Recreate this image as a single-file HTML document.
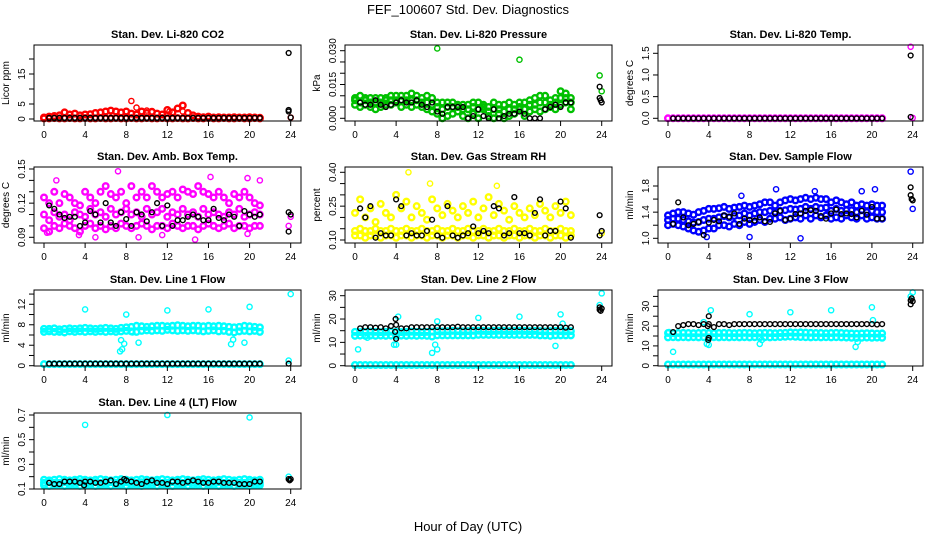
<!DOCTYPE html>
<html><head><meta charset="utf-8"><style>
html,body{margin:0;padding:0;background:#fff;}
svg{display:block;font-family:"Liberation Sans",sans-serif;}
</style></head><body>
<svg id="chart" width="936" height="540" viewBox="0 0 936 540">
<text x="468" y="14" text-anchor="middle" font-size="13">FEF_100607  Std. Dev. Diagnostics</text>
<text x="468" y="531" text-anchor="middle" font-size="13">Hour of Day (UTC)</text>
</svg>
<script>
const hours = [0,0.5,1,1.5,2,2.5,3,3.5,4,4.5,5,5.5,6,6.5,7,7.5,8,8.5,9,9.5,10,10.5,11,11.5,12,12.5,13,13.5,14,14.5,15,15.5,16,16.5,17,17.5,18,18.5,19,19.5,20,20.5,21];
const xTicks = [0,4,8,12,16,20,24];

const co2A = [0.5,0.8,1,1.2,2.2,1.5,1.8,1.2,1.5,1.6,2,2.2,2.5,2.8,2.5,2.2,2.5,1.8,1.5,2.5,2,2.4,1.8,1.5,3,2.2,3.5,4.5,2,1.2,0.8,0.6,0.8,0.5,0.6,0.5,0.5,0.6,0.5,0.5,0.6,0.5,0.4];
const co2B = [0.2,0.2,0.3,0.2,0.2,0.3,0.2,0.2,0.3,0.2,0.2,0.3,0.2,0.2,0.3,0.2,0.2,0.3,0.2,0.2,0.3,0.2,0.2,0.3,0.2,0.2,0.3,0.2,0.2,0.3,0.2,0.2,0.3,0.2,0.2,0.3,0.2,0.2,0.3,0.2,0.2,0.3,0.2];
const co2K = [null,0.4,0.4,0.4,0.4,0.4,0.4,0.4,0.4,0.4,0.4,0.4,0.4,0.4,0.4,0.4,0.4,0.4,0.4,0.4,0.4,0.4,0.4,0.4,0.4,0.4,0.4,0.4,0.4,0.4,0.4,0.4,0.4,0.4,0.4,0.4,0.4,0.4,0.4,0.4,0.4,0.4,0.4];
const co2OutX = [8.5,9,10,12.2,13.5,24,23.8,23.8,23.8,24];
const co2OutY = [6,3.8,2.8,2.5,2.5,0.5,22,3,2.5,0.5];
const co2OutC = ['c','c','c','c','c','c','k','k','k','k'];

const presA = [0.009,0.01,0.009,0.009,0.009,0.009,0.009,0.01,0.01,0.01,0.01,0.011,0.01,0.009,0.01,0.009,0.007,0.007,0.007,0.007,0.006,0.006,0.006,0.007,0.007,0.006,0.005,0.007,0.006,0.006,0.007,0.006,0.007,0.007,0.008,0.009,0.01,0.01,0.008,0.009,0.012,0.011,0.009];
const presB = [0.006,0.005,0.006,0.005,0.004,0.005,0.006,0.006,0.007,0.005,0.006,0.005,0.006,0.005,0.004,0.003,0.002,0.0,0.001,0.002,0.003,0.001,0.0,0.002,0.0,0.004,0.001,0.0,0.002,0.0,0.001,0.002,0.004,0.001,0.003,0.004,0.003,0.004,0.005,0.004,0.006,0.007,0.004];
const presC = [0.008,0.007,0.008,0.007,0.007,0.007,0.008,0.008,0.008,0.008,0.008,0.008,0.008,0.007,0.007,0.006,0.005,0.004,0.005,0.005,0.005,0.004,0.004,0.005,0.004,0.005,0.003,0.004,0.004,0.003,0.004,0.004,0.005,0.004,0.006,0.006,0.007,0.007,0.006,0.007,0.009,0.009,0.007];
const presK = [null,0.007,0.006,0.006,0.008,0.006,0.005,0.006,0.007,0.008,0.007,0.007,0.008,0.006,0.005,0.007,0.003,0.002,0.005,0.005,0.005,0.005,0.0,0.001,0.004,0.001,0.0,0.004,0.0,0.001,0.002,0.002,0.003,0.002,0.0,0.0,0.0,0.004,0.005,0.006,0.005,0.007,0.007];
const presOutX = [8,16,23.8,24,23.8,23.8,24,23.9];
const presOutY = [0.031,0.026,0.019,0.012,0.014,0.009,0.007,0.008];
const presOutC = ['c','c','c','c','k','k','k','k'];

const tempA = [0,0,0,0,0,0,0,0,0,0,0,0,0,0,0,0,0,0,0,0,0,0,0,0,0,0,0,0,0,0,0,0,0,0,0,0,0,0,0,0,0,0,0];
const tempK = [null,0,0,0,0,0,0,0,0,0,0,0,0,0,0,0,0,0,0,0,0,0,0,0,0,0,0,0,0,0,0,0,0,0,0,0,0,0,0,0,0,0,0];
const tempOutX = [23.8,24,23.8,23.8];
const tempOutY = [1.65,0.01,1.45,0.03];
const tempOutC = ['c','c','k','k'];

const boxA = [0.125,0.12,0.13,0.12,0.128,0.125,0.12,0.118,0.13,0.125,0.12,0.13,0.135,0.128,0.125,0.13,0.12,0.135,0.125,0.13,0.125,0.135,0.13,0.125,0.128,0.13,0.125,0.132,0.13,0.128,0.135,0.13,0.128,0.125,0.13,0.125,0.12,0.128,0.125,0.13,0.125,0.12,0.118];
const boxB = [0.11,0.105,0.112,0.108,0.11,0.105,0.112,0.11,0.108,0.115,0.11,0.112,0.108,0.115,0.11,0.112,0.115,0.11,0.112,0.108,0.115,0.11,0.112,0.115,0.108,0.112,0.11,0.115,0.11,0.112,0.108,0.115,0.11,0.112,0.11,0.108,0.112,0.11,0.115,0.108,0.11,0.112,0.11];
const boxC = [0.098,0.095,0.1,0.098,0.102,0.1,0.098,0.095,0.1,0.102,0.098,0.1,0.097,0.1,0.098,0.102,0.1,0.098,0.1,0.102,0.1,0.097,0.1,0.1,0.098,0.102,0.1,0.098,0.1,0.1,0.097,0.1,0.102,0.1,0.098,0.1,0.102,0.098,0.1,0.1,0.098,0.1,0.1];
const boxK = [null,0.118,0.115,0.11,0.107,0.108,0.108,0.1,0.103,0.113,0.11,0.103,0.12,0.103,0.1,0.112,0.106,0.1,0.112,0.11,0.104,0.112,0.12,0.1,0.118,0.1,0.105,0.105,0.108,0.11,0.108,0.105,0.105,0.115,0.107,0.105,0.11,0.108,0.1,0.113,0.11,0.108,0.11];
const boxOutX = [0.3,1.2,3.4,5,7.2,9.2,11.5,14.7,16.2,19.8,19.8,21,23.8,24,23.8,23.8,24];
const boxOutY = [0.094,0.14,0.092,0.09,0.148,0.09,0.092,0.088,0.143,0.093,0.142,0.14,0.1,0.108,0.112,0.095,0.11];
const boxOutC = ['c','c','c','c','c','c','c','c','c','c','c','c','c','c','k','k','k'];

const rhA = [0.12,0.12,0.11,0.12,0.12,0.11,0.12,0.12,0.11,0.12,0.12,0.11,0.12,0.12,0.11,0.12,0.12,0.11,0.12,0.12,0.11,0.12,0.12,0.11,0.12,0.12,0.11,0.12,0.12,0.11,0.12,0.12,0.11,0.12,0.12,0.11,0.12,0.12,0.11,0.12,0.12,0.11,0.12];
const rhB = [0.14,0.15,0.14,0.14,0.15,0.14,0.14,0.15,0.14,0.14,0.15,0.14,0.14,0.15,0.14,0.14,0.15,0.14,0.14,0.15,0.14,0.14,0.15,0.14,0.14,0.15,0.14,0.14,0.15,0.14,0.14,0.15,0.14,0.14,0.15,0.14,0.14,0.15,0.14,0.14,0.15,0.14,0.14];
const rhC = [0.22,0.28,0.2,0.24,0.18,0.26,0.22,0.2,0.3,0.24,0.27,0.2,0.25,0.22,0.19,0.28,0.24,0.21,0.26,0.23,0.2,0.25,0.22,0.27,0.2,0.24,0.29,0.21,0.26,0.23,0.19,0.25,0.22,0.2,0.24,0.21,0.26,0.23,0.2,0.25,0.22,0.27,0.21];
const rhK = [null,0.24,0.2,0.25,0.11,0.13,0.12,0.12,0.28,0.25,0.12,0.13,0.12,0.12,0.14,0.19,0.12,0.11,0.25,0.12,0.11,0.12,0.13,0.16,0.13,0.14,0.13,0.25,0.24,0.12,0.13,0.29,0.13,0.13,0.12,0.22,0.28,0.12,0.14,0.14,0.27,0.24,0.11];
const rhOutX = [5.2,7.3,13.8,24,23.8,23.8,24];
const rhOutY = [0.4,0.35,0.34,0.13,0.21,0.12,0.14];
const rhOutC = ['c','c','c','c','k','k','k'];

const sfA = [1.35,1.38,1.4,1.4,1.38,1.36,1.4,1.42,1.45,1.45,1.46,1.48,1.45,1.47,1.48,1.5,1.48,1.5,1.52,1.55,1.55,1.5,1.55,1.58,1.6,1.58,1.6,1.62,1.6,1.62,1.6,1.6,1.55,1.58,1.55,1.52,1.55,1.5,1.52,1.5,1.52,1.5,1.5];
const sfB = [1.2,1.22,1.2,1.18,1.15,1.12,1.1,1.12,1.15,1.15,1.2,1.2,1.18,1.22,1.2,1.25,1.22,1.25,1.28,1.25,1.3,1.3,1.32,1.28,1.3,1.32,1.3,1.35,1.3,1.35,1.32,1.35,1.3,1.32,1.3,1.35,1.32,1.3,1.35,1.3,1.32,1.3,1.3];
const sfC = [1.28,1.3,1.3,1.28,1.26,1.24,1.25,1.28,1.3,1.3,1.32,1.34,1.32,1.34,1.35,1.38,1.35,1.38,1.4,1.4,1.42,1.4,1.42,1.43,1.45,1.44,1.45,1.48,1.45,1.48,1.46,1.47,1.42,1.45,1.42,1.43,1.43,1.4,1.43,1.4,1.42,1.4,1.4];
const sfK = [null,1.22,1.55,1.32,1.2,1.22,1.25,1.05,1.24,1.28,1.26,1.35,1.33,1.38,1.22,1.3,1.28,1.27,1.32,1.26,1.25,1.38,1.42,1.28,1.3,1.37,1.38,1.42,1.43,1.42,1.34,1.3,1.38,1.44,1.37,1.38,1.37,1.32,1.42,1.36,1.48,1.3,1.3];
const sfOutX = [3.8,7.2,8,10.6,13,14.4,19,20.3,23.8,24,23.8,23.8,23.9,24];
const sfOutY = [1.02,1.65,1.02,1.75,1.0,1.72,1.72,1.75,2.02,1.45,1.78,1.66,1.6,1.58];
const sfOutC = ['c','c','c','c','c','c','c','c','c','c','k','k','k','k'];

const l1A = [7.2,7.2,7.3,7.1,7.2,7.3,7.2,7.3,7.4,7.3,7.2,7.3,7.4,7.3,7.2,7.4,7.5,7.6,7.8,7.7,7.6,7.7,7.8,7.8,7.7,7.8,7.9,7.8,7.7,7.8,7.8,7.7,7.8,7.7,7.8,7.7,7.6,7.5,7.6,7.8,7.7,7.6,7.5];
const l1B = [6.6,6.7,6.6,6.6,6.5,6.7,6.6,6.7,6.6,6.7,6.6,6.7,6.6,6.7,6.6,6.7,6.8,6.7,6.6,6.8,6.9,6.8,6.9,6.8,7,6.9,6.8,6.9,6.8,6.9,6.8,6.7,6.8,6.9,6.7,6.8,6.6,6.5,6.7,6.8,6.7,6.8,6.6];
const l1C = [0.3,0.3,0.3,0.3,0.3,0.3,0.3,0.3,0.3,0.3,0.3,0.3,0.3,0.3,0.3,0.3,0.3,0.3,0.3,0.3,0.3,0.3,0.3,0.3,0.3,0.3,0.3,0.3,0.3,0.3,0.3,0.3,0.3,0.3,0.3,0.3,0.3,0.3,0.3,0.3,0.3,0.3,0.3];
const l1K = [null,0.4,0.4,0.4,0.4,0.4,0.4,0.4,0.4,0.4,0.4,0.4,0.4,0.4,0.4,0.4,0.4,0.4,0.4,0.4,0.4,0.4,0.4,0.4,0.4,0.4,0.4,0.4,0.4,0.4,0.4,0.4,0.4,0.4,0.4,0.4,0.4,0.4,0.4,0.4,0.4,0.4,0.4];
const l1OutX = [4,7.4,7.5,7.6,7.8,8,8.6,9.2,12,16,18.2,18.4,19.5,20,23.8,24,23.8];
const l1OutY = [11,2.8,5,3.2,4.3,10,6.5,4.5,10.8,11,4.2,5.1,4.5,11.5,1,14,0.4];
const l1OutC = ['c','c','c','c','c','c','c','c','c','c','c','c','c','c','c','c','k'];

const l2A = [14.5,14.4,14.5,14.6,14.5,14.4,14.5,14.6,14.5,14.4,14.5,14.6,14.5,14.4,14.5,14.6,14.8,14.7,14.8,14.9,14.8,14.7,14.8,14.9,15,14.9,14.8,14.9,15,14.9,14.8,14.9,15,14.9,14.8,14.9,14.8,14.7,14.8,14.9,14.8,14.7,14.8];
const l2B = [12.8,12.9,12.8,12.9,12.8,12.9,12.8,12.9,12.8,12.9,12.8,12.9,12.8,12.9,12.8,12.5,13,13,13,13,13,13,13,13,13.2,13.2,13.2,13.2,13.2,13.2,13.2,13.2,13.2,13.2,13.2,13.2,13,13,12.8,13,13,13,13];
const l2C = [0.3,0.3,0.3,0.3,0.3,0.3,0.3,0.3,0.3,0.3,0.3,0.3,0.3,0.3,0.3,0.3,0.3,0.3,0.3,0.3,0.3,0.3,0.3,0.3,0.3,0.3,0.3,0.3,0.3,0.3,0.3,0.3,0.3,0.3,0.3,0.3,0.3,0.3,0.3,0.3,0.3,0.3,0.3];
const l2K = [null,16,16.5,16.5,16.3,16.5,16,17,17.5,16,16,16.5,16.5,16.5,16.5,16.5,16.5,16.5,16.5,16.5,16.7,16.5,16.5,16.5,16.5,16.5,16.5,16.5,16.5,16.5,16.5,16.5,16.5,16.5,16.5,16.5,16.5,16.5,16.5,16.5,16.5,16.3,16.5];
const l2OutX = [0.3,1.2,3.8,4,4.2,7.5,7.8,8,8,12,16,20,19.5,20.2,23.8,24,3.9,4,3.95,23.8,23.8,24,23.9];
const l2OutY = [7,12,9,9,21,5.5,9,7,19,20.5,21,22,8.5,18,26,31,14.5,11.5,20,24,25,24.5,23.5];
const l2OutC = ['c','c','c','c','c','c','c','c','c','c','c','c','c','c','c','c','k','k','k','k','k','k','k'];

const l3A = [16.5,16.4,16.5,16.6,16.5,16.4,16.5,16.6,16.5,16.4,16.5,16.6,16.5,16.4,16.5,16.6,16.5,16.4,16.5,16.6,16.5,16.4,16.5,16.6,16.8,16.7,16.8,16.7,16.6,16.5,16.5,16.4,16.5,16.6,16.5,16.4,16.3,16.2,16.3,16.4,16.3,16.2,16.3];
const l3B = [14.3,14.4,14.3,14.4,14.3,14.4,14.3,14.4,14.3,14.4,14.3,14.4,14.3,14.4,14.3,14.4,14.3,14.4,14.3,14.4,14.3,14.4,14.5,14.6,14.7,14.6,14.5,14.4,14.3,14.4,14.3,14.4,14.3,14.4,14.3,14.2,14.1,14.0,14.1,14.2,14.1,14.2,14.1];
const l3C = [0.6,0.6,0.6,0.6,0.6,0.6,0.6,0.6,0.6,0.6,0.6,0.6,0.6,0.6,0.6,0.6,0.6,0.6,0.6,0.6,0.6,0.6,0.6,0.6,0.6,0.6,0.6,0.6,0.6,0.6,0.6,0.6,0.6,0.6,0.6,0.6,0.6,0.6,0.6,0.6,0.6,0.6,0.6];
const l3K = [null,17,20,20.5,21,21,20.5,21,21,19.5,21,21,20.5,21,21,21,21,21,21,21,21,21,21,21,21,21,21,21,21,21,21,21,21,21,21,21,21,21,21,21,21,20.8,21];
const l3OutX = [0.5,3.5,3.8,4,4.2,8,9,9.2,12,16,18.4,18.6,20,20.1,0.1,23.8,24,3.95,4,3.9,4,23.8,23.8,24,23.9];
const l3OutY = [7,22,11,10.5,28,26,11,13,27,28,9.5,12,29.5,23,17,35,37,13,14,20,25,31,33,32.5,34];
const l3OutC = ['c','c','c','c','c','c','c','c','c','c','c','c','c','c','c','c','c','k','k','k','k','k','k','k','k'];

const l4A = [0.175,0.17,0.175,0.18,0.175,0.17,0.175,0.18,0.175,0.17,0.175,0.18,0.175,0.17,0.175,0.18,0.175,0.17,0.175,0.18,0.175,0.17,0.175,0.18,0.175,0.17,0.175,0.18,0.175,0.17,0.175,0.18,0.175,0.17,0.175,0.18,0.175,0.17,0.175,0.18,0.175,0.17,0.175];
const l4B = [0.13,0.125,0.13,0.13,0.125,0.13,0.13,0.125,0.13,0.13,0.125,0.13,0.13,0.125,0.13,0.13,0.125,0.13,0.13,0.125,0.13,0.13,0.125,0.13,0.13,0.125,0.13,0.13,0.125,0.13,0.13,0.125,0.13,0.13,0.125,0.13,0.13,0.125,0.13,0.13,0.125,0.13,0.13];
const l4C = [0.15,0.155,0.15,0.15,0.155,0.15,0.15,0.155,0.15,0.15,0.155,0.15,0.15,0.155,0.15,0.15,0.155,0.15,0.15,0.155,0.15,0.15,0.155,0.15,0.15,0.155,0.15,0.15,0.155,0.15,0.15,0.155,0.15,0.15,0.155,0.15,0.15,0.155,0.15,0.15,0.155,0.15,0.15];
const l4K = [null,0.15,0.14,0.14,0.16,0.16,0.16,0.15,0.16,0.16,0.15,0.15,0.16,0.17,0.14,0.16,0.17,0.16,0.15,0.14,0.16,0.17,0.15,0.15,0.14,0.16,0.16,0.15,0.16,0.17,0.16,0.15,0.15,0.16,0.16,0.15,0.15,0.15,0.14,0.14,0.14,0.16,0.16];
const l4OutX = [4,12,20,23.8,23.8,23.9,24,3.9,7.8];
const l4OutY = [0.62,0.7,0.68,0.2,0.18,0.17,0.18,0.13,0.18];
const l4OutC = ['c','c','c','c','k','k','k','k','k'];

const panels = [
 {name:'co2',title:'Stan. Dev. Li-820 CO2',ylab:'Licor ppm',col:0,row:0,color:'#ff0000',y0:0,y0px:119,y1:15,y1px:74,ticks:[0,5,10,15,20],labels:['0','5','','15',''],bands:[co2A,co2B],k:co2K,ox:co2OutX,oy:co2OutY,oc:co2OutC},
 {name:'pressure',title:'Stan. Dev. Li-820 Pressure',ylab:'kPa',col:1,row:0,color:'#00c000',y0:0,y0px:118.3,y1:0.03,y1px:50.7,ticks:[0,0.005,0.01,0.015,0.02,0.025,0.03],labels:['0.000','','','0.015','','','0.030'],bands:[presA,presC,presB],k:presK,ox:presOutX,oy:presOutY,oc:presOutC},
 {name:'li820-temp',title:'Stan. Dev. Li-820 Temp.',ylab:'degrees C',col:2,row:0,color:'#ff00ff',y0:0,y0px:118.3,y1:1.5,y1px:53.3,ticks:[0,0.5,1,1.5],labels:['0.0','0.5','1.0','1.5'],bands:[tempA],k:tempK,ox:tempOutX,oy:tempOutY,oc:tempOutC},
 {name:'box-temp',title:'Stan. Dev. Amb. Box Temp.',ylab:'degrees C',col:0,row:1,color:'#ff00ff',y0:0.09,y0px:237.3,y1:0.15,y1px:169,ticks:[0.09,0.1,0.11,0.12,0.13,0.14,0.15],labels:['0.09','','','0.12','','','0.15'],bands:[boxA,boxB,boxC],k:boxK,ox:boxOutX,oy:boxOutY,oc:boxOutC},
 {name:'gas-rh',title:'Stan. Dev. Gas Stream RH',ylab:'percent',col:1,row:1,color:'#ffff00',y0:0.1,y0px:240,y1:0.4,y1px:172.3,ticks:[0.1,0.15,0.2,0.25,0.3,0.35,0.4],labels:['0.10','','','0.25','','','0.40'],bands:[rhC,rhB,rhA],k:rhK,ox:rhOutX,oy:rhOutY,oc:rhOutC},
 {name:'sample-flow',title:'Stan. Dev. Sample Flow',ylab:'ml/min',col:2,row:1,color:'#0000ff',y0:1.0,y0px:238.3,y1:1.8,y1px:186,ticks:[1.0,1.2,1.4,1.6,1.8],labels:['1.0','','1.4','','1.8'],bands:[sfA,sfC,sfB],k:sfK,ox:sfOutX,oy:sfOutY,oc:sfOutC},
 {name:'line1-flow',title:'Stan. Dev. Line 1 Flow',ylab:'ml/min',col:0,row:2,color:'#00ffff',y0:0,y0px:365.7,y1:12,y1px:304.3,ticks:[0,2,4,6,8,10,12,14],labels:['0','','4','','8','','12',''],bands:[l1A,l1B,l1C],k:l1K,ox:l1OutX,oy:l1OutY,oc:l1OutC},
 {name:'line2-flow',title:'Stan. Dev. Line 2 Flow',ylab:'ml/min',col:1,row:2,color:'#00ffff',y0:0,y0px:365.7,y1:30,y1px:295.7,ticks:[0,5,10,15,20,25,30],labels:['0','','10','','20','','30'],bands:[l2A,l2B,l2C],k:l2K,ox:l2OutX,oy:l2OutY,oc:l2OutC},
 {name:'line3-flow',title:'Stan. Dev. Line 3 Flow',ylab:'ml/min',col:2,row:2,color:'#00ffff',y0:0,y0px:365.7,y1:30,y1px:306.3,ticks:[0,5,10,15,20,25,30,35],labels:['0','','10','','20','','30',''],bands:[l3A,l3B,l3C],k:l3K,ox:l3OutX,oy:l3OutY,oc:l3OutC},
 {name:'line4-flow',title:'Stan. Dev. Line 4 (LT) Flow',ylab:'ml/min',col:0,row:3,color:'#00ffff',y0:0.1,y0px:489,y1:0.7,y1px:415,ticks:[0.1,0.2,0.3,0.4,0.5,0.6,0.7],labels:['0.1','','0.3','','0.5','','0.7'],bands:[l4A,l4C,l4B],k:l4K,ox:l4OutX,oy:l4OutY,oc:l4OutC}
];

const colLeft=[34,345,658], colRight=[301,612,923];
const rowTop=[45,167,290,413], rowBot=[121,243,366,489];
const NS='http://www.w3.org/2000/svg';
const svg=document.getElementById('chart');
function mk(tag,attrs,parent){const e=document.createElementNS(NS,tag);for(const k in attrs)e.setAttribute(k,attrs[k]);(parent||svg).appendChild(e);return e;}

panels.forEach(p=>{
  const L=colLeft[p.col],R=colRight[p.col],T=rowTop[p.row],B=rowBot[p.row];
  const x0=L+10, xs=(R-L-20.3)/24;
  const xScale=h=>x0+h*xs;
  const yScale=v=>p.y0px+(v-p.y0)*(p.y1px-p.y0px)/(p.y1-p.y0);
  const g=mk('g',{});
  
  
  const t=mk('text',{x:(L+R)/2,y:T-7,'text-anchor':'middle','font-size':'11','font-weight':'bold'},g);
  t.textContent=p.title;
  
  
  const yl=mk('text',{x:0,y:0,transform:`translate(${L-25},${(T+B)/2}) rotate(-90)`,'text-anchor':'middle','font-size':'10'},g);
  yl.textContent=p.ylab;
  
  
  const pts=mk('g',{fill:'none'},g);
  
  
  p.bands.forEach(arr=>{arr.forEach((v,i)=>{if(v===null)return;
    const c=mk('circle',{cx:xScale(hours[i]),cy:yScale(v),r:2.8,stroke:p.color,'stroke-width':'2.4'},pts);
    
    });});
  p.ox.forEach((h,i)=>{if(p.oc[i]!=='c')return;
    const c=mk('circle',{cx:xScale(h),cy:yScale(p.oy[i]),r:2.6,stroke:p.color,'stroke-width':'1.4'},pts);
    
    });
  p.k.forEach((v,i)=>{if(v===null)return;
    const c=mk('circle',{cx:xScale(hours[i]),cy:yScale(v),r:2.4,stroke:'#000','stroke-width':'1.4'},pts);
    
    });
  p.ox.forEach((h,i)=>{if(p.oc[i]!=='k')return;
    const c=mk('circle',{cx:xScale(h),cy:yScale(p.oy[i]),r:2.4,stroke:'#000','stroke-width':'1.4'},pts);
    
    });
  const box=mk('rect',{x:L,y:T,width:R-L,height:B-T,fill:'none',stroke:'#000','stroke-width':'1'},g);
  
  
  xTicks.forEach(h=>{const x=xScale(h);
    mk('line',{x1:x,y1:B,x2:x,y2:B+5,stroke:'#000'},g);
    const tl=mk('text',{x:x,y:B+17,'text-anchor':'middle','font-size':'10'},g);
    tl.textContent=h;
    
    });
  p.ticks.forEach((v,i)=>{const y=yScale(v); if(y<T-1||y>B+1)return;
    mk('line',{x1:L,y1:y,x2:L-5,y2:y,stroke:'#000'},g);
    if(p.labels[i]){const tl=mk('text',{x:0,y:0,transform:`translate(${L-9},${y}) rotate(-90)`,'text-anchor':'middle','font-size':'10'},g);
      tl.textContent=p.labels[i];
      
      }});
});
</script>
</body></html>
